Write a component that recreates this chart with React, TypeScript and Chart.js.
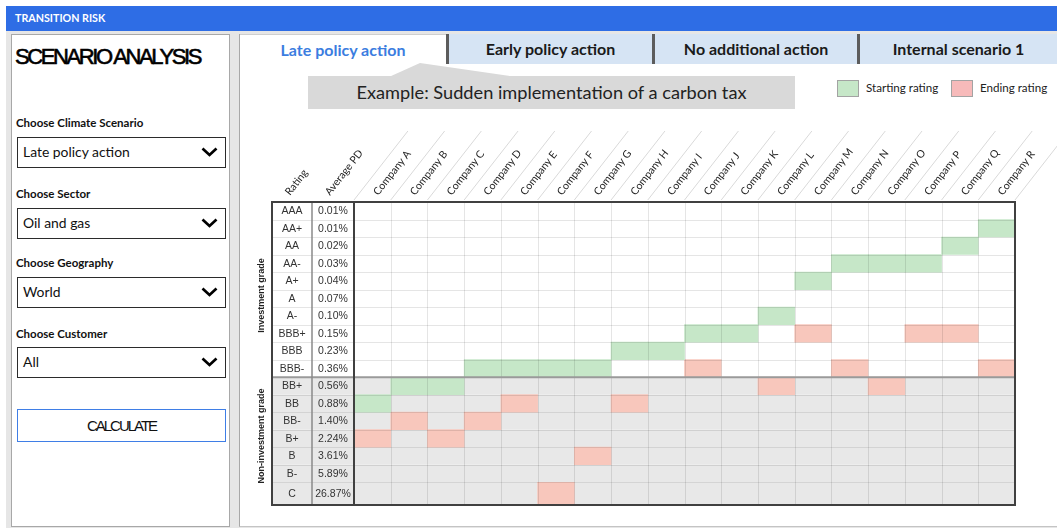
import React, { useEffect, useRef } from 'react';
import { Chart, registerables } from 'chart.js';

Chart.register(...registerables);

// ---------- data ----------
const SCENARIOS = ['Late policy action', 'Early policy action', 'No additional action', 'Internal scenario 1'];
const SCENARIO_NOTE = 'Example: Sudden implementation of a carbon tax';
const FILTER_LABELS = ['Choose Climate Scenario', 'Choose Sector', 'Choose Geography', 'Choose Customer'];
const FILTER_VALUES = ['Late policy action', 'Oil and gas', 'World', 'All'];
const LEGEND_LABELS = ['Starting rating', 'Ending rating'];
const HEADER_LABELS = ['Rating', 'Average PD'];
const GROUP_LABELS = ['Investment grade', 'Non-investment grade'];
const INVESTMENT_GRADE_COUNT = 10;

const COMPANIES = [
  'Company A', 'Company B', 'Company C', 'Company D', 'Company E', 'Company F',
  'Company G', 'Company H', 'Company I', 'Company J', 'Company K', 'Company L',
  'Company M', 'Company N', 'Company O', 'Company P', 'Company Q', 'Company R',
];
const RATINGS = ['AAA', 'AA+', 'AA', 'AA-', 'A+', 'A', 'A-', 'BBB+', 'BBB', 'BBB-', 'BB+', 'BB', 'BB-', 'B+', 'B', 'B-', 'C'];
const AVERAGE_PD = ['0.01%', '0.01%', '0.02%', '0.03%', '0.04%', '0.07%', '0.10%', '0.15%', '0.23%', '0.36%', '0.56%', '0.88%', '1.40%', '2.24%', '3.61%', '5.89%', '26.87%'];
const STARTING_RATING = ['BB', 'BB+', 'BB+', 'BBB-', 'BBB-', 'BBB-', 'BBB-', 'BBB', 'BBB', 'BBB+', 'BBB+', 'A-', 'A+', 'AA-', 'AA-', 'AA-', 'AA', 'AA+'];
const ENDING_RATING: (string | null)[] = ['B+', 'BB-', 'B+', 'BB-', 'BB', 'C', 'B', 'BB', null, 'BBB-', null, 'BB+', 'BBB+', 'BBB-', 'BB+', 'BBB+', 'BBB+', 'BBB-'];

// ---------- layout helpers ----------
const LAST_ROW_SPAN = 1.3;
const rowStart = (i: number) => i;
const rowEnd = (i: number) => i + (i === RATINGS.length - 1 ? LAST_ROW_SPAN : 1);
const cell = (r: string | null) => {
  if (r == null) return null;
  const i = RATINGS.indexOf(r);
  return [rowStart(i), rowEnd(i)];
};

const GREEN = '#c6e7c8';
const RED = '#f8c7bc';
const CALIBRI = 'Lato, "Open Sans", sans-serif';
const ARIAL = '"Liberation Sans", Arial, sans-serif';

const RATING_W = 40;
const PD_W = 42;

const matrixPlugin = {
  id: 'matrix',
  beforeDatasetsDraw(chart: any) {
    const { ctx, chartArea: a, scales } = chart;
    const y = scales.y;
    const left = a.left - RATING_W - PD_W;
    ctx.save();
    RATINGS.forEach((_, i) => {
      const t = y.getPixelForValue(rowStart(i));
      const b = y.getPixelForValue(rowEnd(i));
      ctx.fillStyle = i < INVESTMENT_GRADE_COUNT ? '#ffffff' : '#e8e8e8';
      ctx.fillRect(left, t, a.right - left, b - t);
    });
    ctx.restore();
  },
  afterDatasetsDraw(chart: any) {
    const { ctx, chartArea: a, scales } = chart;
    const x = scales.x;
    const y = scales.y;
    const n = COMPANIES.length;
    const colW = (a.right - a.left) / n;
    const left = a.left - RATING_W - PD_W;
    ctx.save();

    // grid lines
    ctx.strokeStyle = 'rgba(0,0,0,0.1)';
    ctx.lineWidth = 1;
    for (let i = 1; i < n; i++) {
      const px = Math.round(x.getPixelForValue(i) - colW / 2) + 0.5;
      ctx.beginPath();
      ctx.moveTo(px, a.top);
      ctx.lineTo(px, a.bottom);
      ctx.stroke();
    }
    for (let i = 1; i < RATINGS.length; i++) {
      if (i === INVESTMENT_GRADE_COUNT) continue;
      const py = Math.round(y.getPixelForValue(i)) + 0.5;
      ctx.beginPath();
      ctx.moveTo(left, py);
      ctx.lineTo(a.right, py);
      ctx.stroke();
    }
    // investment / non-investment separator
    const sepY = y.getPixelForValue(INVESTMENT_GRADE_COUNT);
    ctx.strokeStyle = '#9a9a9a';
    ctx.lineWidth = 2;
    ctx.beginPath();
    ctx.moveTo(left, sepY);
    ctx.lineTo(a.right, sepY);
    ctx.stroke();

    // rating table columns
    ctx.strokeStyle = '#8a8a8a';
    ctx.lineWidth = 1.5;
    ctx.beginPath();
    ctx.moveTo(a.left - PD_W, a.top);
    ctx.lineTo(a.left - PD_W, a.bottom);
    ctx.stroke();
    ctx.strokeStyle = '#404040';
    ctx.lineWidth = 2;
    ctx.beginPath();
    ctx.moveTo(a.left, a.top);
    ctx.lineTo(a.left, a.bottom);
    ctx.stroke();
    ctx.strokeRect(left, a.top, a.right - left, a.bottom - a.top);

    // rating + PD text
    ctx.fillStyle = '#333';
    ctx.font = `10.5px ${ARIAL}`;
    ctx.textAlign = 'center';
    ctx.textBaseline = 'middle';
    RATINGS.forEach((r, i) => {
      const cy = (y.getPixelForValue(rowStart(i)) + y.getPixelForValue(rowEnd(i))) / 2 + 0.5;
      ctx.fillText(r, left + RATING_W / 2, cy);
      ctx.fillText(AVERAGE_PD[i], a.left - PD_W / 2, cy);
    });

    // group labels
    ctx.font = `bold 9px ${ARIAL}`;
    ctx.fillStyle = '#222';
    const groups = [
      [0, INVESTMENT_GRADE_COUNT, 6],
      [INVESTMENT_GRADE_COUNT, RATINGS.length, -5],
    ];
    groups.forEach(([s, e, shift], gi) => {
      const cy = (y.getPixelForValue(rowStart(s)) + y.getPixelForValue(rowEnd(e - 1))) / 2 + shift;
      ctx.save();
      ctx.translate(left - 10, cy);
      ctx.rotate(-Math.PI / 2);
      ctx.fillText(GROUP_LABELS[gi], 0, 0);
      ctx.restore();
    });

    // diagonal header lines
    const ang = (52 * Math.PI) / 180;
    const lineH = 69;
    ctx.strokeStyle = '#d9d9d9';
    ctx.lineWidth = 1;
    for (let i = 0; i <= n; i++) {
      const px = a.left + i * colW;
      ctx.beginPath();
      ctx.moveTo(px, a.top - 2);
      ctx.lineTo(px + lineH / Math.tan(ang), a.top - 2 - lineH);
      ctx.stroke();
    }

    // rotated header labels
    ctx.fillStyle = '#1e1e1e';
    ctx.font = `10.5px ${CALIBRI}`;
    ctx.textAlign = 'left';
    ctx.textBaseline = 'alphabetic';
    const drawRot = (text: string, px: number) => {
      ctx.save();
      ctx.translate(px, a.top - 6);
      ctx.rotate(-ang);
      ctx.fillText(text, 0, 0);
      ctx.restore();
    };
    drawRot(HEADER_LABELS[0], left + RATING_W / 2 - 2);
    drawRot(HEADER_LABELS[1], a.left - PD_W / 2 - 3);
    COMPANIES.forEach((c, i) => drawRot(c, x.getPixelForValue(i) + 6));

    ctx.restore();
  },
};

function Matrix() {
  const ref = useRef<HTMLCanvasElement | null>(null);
  useEffect(() => {
    if (!ref.current) return;
    const chart = new Chart(ref.current, {
      type: 'bar',
      data: {
        labels: COMPANIES,
        datasets: [
          {
            label: LEGEND_LABELS[0],
            data: STARTING_RATING.map(cell) as any,
            backgroundColor: GREEN,
            borderWidth: 0,
            grouped: false,
            barPercentage: 1,
            categoryPercentage: 1,
          } as any,
          {
            label: LEGEND_LABELS[1],
            data: ENDING_RATING.map(cell) as any,
            backgroundColor: RED,
            borderWidth: 0,
            grouped: false,
            barPercentage: 1,
            categoryPercentage: 1,
          } as any,
        ],
      },
      options: {
        animation: false,
        responsive: false,
        maintainAspectRatio: false,
        layout: { padding: { left: 114, right: 42, top: 92, bottom: 15 } },
        plugins: { legend: { display: false }, tooltip: { enabled: false } },
        scales: {
          x: { type: 'category', display: false, offset: true },
          y: { type: 'linear', display: false, reverse: true, min: 0, max: RATINGS.length - 1 + LAST_ROW_SPAN },
        },
      },
      plugins: [matrixPlugin],
    });
    return () => chart.destroy();
  }, []);
  return (
    <canvas
      ref={ref}
      width={817}
      height={410}
      style={{ position: 'absolute', left: 240, top: 110, width: 817, height: 410 }}
    />
  );
}

const Chevron = () => (
  <svg width="17" height="10" viewBox="0 0 17 10" style={{ position: 'absolute', right: 7, top: 9 }}>
    <polyline points="1.5,1.5 8.5,8 15.5,1.5" fill="none" stroke="#000" strokeWidth="2.7" />
  </svg>
);

const LABEL_CENTERS = [123, 194, 263, 334];
const BOX_TOPS = [137, 208, 277, 347];
const TAB_LEFTS = [240, 449, 655, 860];
const TAB_RIGHTS = [446, 652, 857, 1057];

export default function App() {
  return (
    <div
      style={{
        position: 'fixed',
        left: 0,
        top: 0,
        width: 1057,
        height: 528,
        background: '#fff',
        overflow: 'hidden',
        fontFamily: CALIBRI,
      }}
    >
      <div style={{ position: 'absolute', left: 6, top: 6, width: 1051, height: 522, background: '#e6e6e6' }} />
      <div
        style={{
          position: 'absolute',
          left: 6,
          top: 6,
          width: 1051,
          height: 25,
          background: '#2e6de5',
          color: '#fff',
          fontWeight: 700,
          fontSize: 10.7,
          lineHeight: '24px',
          paddingLeft: 9,
          boxSizing: 'border-box',
        }}
      >
        TRANSITION RISK
      </div>

      {/* left panel */}
      <div
        style={{
          position: 'absolute',
          left: 11,
          top: 34,
          width: 219,
          height: 493,
          background: '#fff',
          border: '1px solid #a8a8a8',
          boxSizing: 'border-box',
        }}
      />
      <div
        style={{
          position: 'absolute',
          left: 15,
          top: 46,
          fontFamily: ARIAL,
          fontSize: 22,
          lineHeight: '22px',
          letterSpacing: '-2.4px',
          color: '#000',
          whiteSpace: 'nowrap',
          WebkitTextStroke: '0.6px #000',
        }}
      >
        SCENARIO ANALYSIS
      </div>
      {FILTER_LABELS.map((l, i) => (
        <React.Fragment key={l}>
          <div
            style={{
              position: 'absolute',
              left: 16,
              top: LABEL_CENTERS[i] - 7,
              fontSize: 11.5,
              lineHeight: '14px',
              fontWeight: 700,
              color: '#111',
              whiteSpace: 'nowrap',
            }}
          >
            {l}
          </div>
          <div
            style={{
              position: 'absolute',
              left: 17,
              top: BOX_TOPS[i],
              width: 209,
              height: 31,
              border: '1.5px solid #2b2b2b',
              boxSizing: 'border-box',
              fontSize: 13.9,
              lineHeight: '28px',
              paddingLeft: 5,
              color: '#111',
              whiteSpace: 'nowrap',
            }}
          >
            {FILTER_VALUES[i]}
            <Chevron />
          </div>
        </React.Fragment>
      ))}
      <div
        style={{
          position: 'absolute',
          left: 17,
          top: 409,
          width: 209,
          height: 33,
          border: '1px solid #3f7ee6',
          boxSizing: 'border-box',
          textAlign: 'center',
          fontFamily: ARIAL,
          fontSize: 15,
          lineHeight: '31px',
          letterSpacing: '-2px',
          color: '#111',
        }}
      >
        CALCULATE
      </div>

      {/* main panel */}
      <div
        style={{
          position: 'absolute',
          left: 239,
          top: 34,
          width: 818,
          height: 493,
          background: '#fff',
          borderLeft: '1px solid #a8a8a8',
          borderBottom: '1px solid #c4c4c4',
          boxSizing: 'border-box',
        }}
      />
      {SCENARIOS.map((s, i) => (
        <div
          key={s}
          style={{
            position: 'absolute',
            left: TAB_LEFTS[i],
            top: 34,
            width: TAB_RIGHTS[i] - TAB_LEFTS[i],
            height: 30,
            background: i === 0 ? '#fff' : '#d6e4f4',
            borderTop: i === 0 ? '1px solid #cfcfcf' : 'none',
            boxSizing: 'border-box',
            textAlign: 'center',
            fontWeight: 700,
            fontSize: 16,
            lineHeight: '30px',
            color: i === 0 ? '#3b7de0' : '#1a1a1a',
            whiteSpace: 'nowrap',
          }}
        >
          {s}
        </div>
      ))}
      {[446, 652, 857].map((sx) => (
        <div key={sx} style={{ position: 'absolute', left: sx, top: 34, width: 3, height: 30, background: '#5c5c5c' }} />
      ))}

      {/* callout */}
      <svg width="1057" height="528" style={{ position: 'absolute', left: 0, top: 0 }}>
        <polygon points="390,76.5 420,63 513,76.5" fill="#d9d9d9" />
      </svg>
      <div
        style={{
          position: 'absolute',
          left: 308,
          top: 76,
          width: 487,
          height: 33,
          background: '#d9d9d9',
          textAlign: 'center',
          fontSize: 18.2,
          lineHeight: '33px',
          color: '#222',
          whiteSpace: 'nowrap',
        }}
      >
        {SCENARIO_NOTE}
      </div>

      {/* legend */}
      {LEGEND_LABELS.map((l, i) => (
        <React.Fragment key={l}>
          <div
            style={{
              position: 'absolute',
              left: [837, 951][i],
              top: 80,
              width: 22,
              height: 17,
              background: i === 0 ? GREEN : '#f7baba',
              border: '1px solid #a3a3a3',
              boxSizing: 'border-box',
            }}
          />
          <div
            style={{
              position: 'absolute',
              left: [866, 980][i],
              top: 81,
              fontSize: 11.6,
              lineHeight: '14px',
              color: '#222',
              whiteSpace: 'nowrap',
            }}
          >
            {l}
          </div>
        </React.Fragment>
      ))}

      <Matrix />
    </div>
  );
}
